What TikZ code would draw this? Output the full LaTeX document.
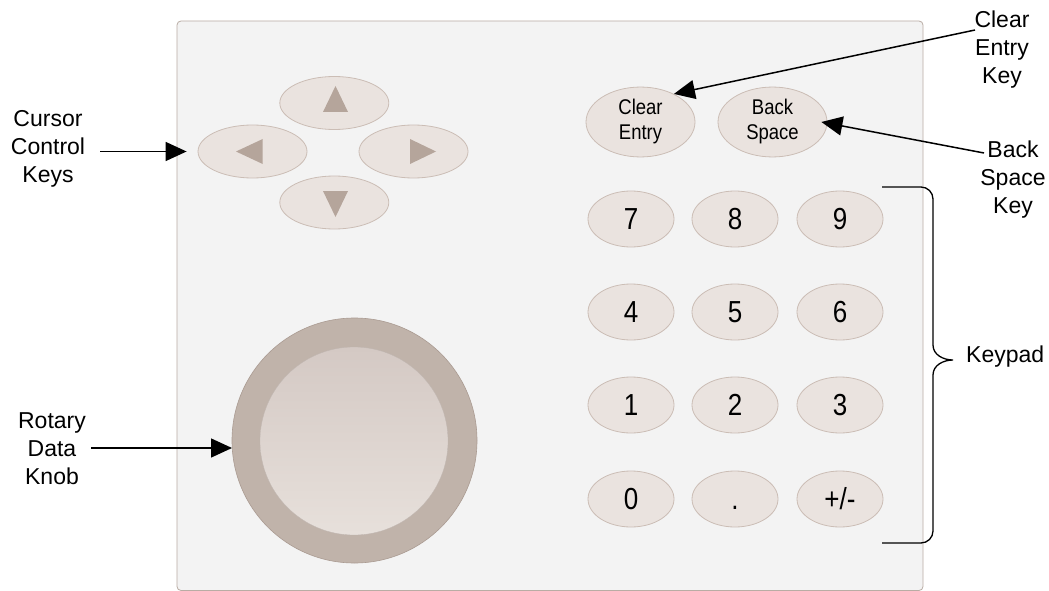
\documentclass[tikz,border=0pt]{standalone}
\usepackage{fontspec}
\setmainfont{Liberation Sans}
\usetikzlibrary{shapes.geometric,arrows.meta}
\definecolor{panelfill}{RGB}{243,243,243}
\definecolor{panelline}{RGB}{185,172,164}
\definecolor{keyfill}{RGB}{234,227,223}
\definecolor{keyline}{RGB}{203,189,181}
\definecolor{trifill}{RGB}{181,165,155}
\definecolor{knobout}{RGB}{192,179,170}
\definecolor{knobline}{RGB}{170,155,146}
\definecolor{knobtop}{RGB}{212,201,196}
\definecolor{knobbot}{RGB}{231,224,219}
\newcommand{\dg}[1]{\scalebox{1}[1.17]{#1}}
\tikzset{
  key/.style={ellipse, draw=keyline, line width=0.8pt, fill=keyfill, inner sep=0pt,
    minimum width=86pt, minimum height=56pt},
  bigkey/.style={key, minimum width=109pt, minimum height=53pt},
  keytext/.style={font=\fontsize{18.5}{22}\selectfont},
  digit/.style={font=\fontsize{26}{30}\selectfont, text height=21.7pt, text depth=0pt},
  lbl/.style={align=center, inner sep=0pt, font=\fontsize{23}{28}\selectfont},
  arr/.style={line width=1.5pt, -{Triangle[length=21pt,width=19pt]}},
  tri/.style={fill=trifill},
}
\begin{document}
\begin{tikzpicture}[x=1pt,y=-1pt]
\useasboundingbox (0,0) rectangle (1049,591);
\fill[white] (0,0) rectangle (1049,591);
% panel
\draw[panelline, fill=panelfill, line width=0.8pt, rounded corners=4pt] (177,21) rectangle (923,590.5);

% cursor keys
\node[bigkey] (uk) at (334.3,103) {};
\node[bigkey] (dk) at (334.3,202.5) {};
\node[bigkey] (lk) at (252.5,151.5) {};
\node[bigkey] (rk) at (413.5,151.5) {};
\fill[tri] (323,112) -- (348,112) -- (335.5,86) -- cycle;
\fill[tri] (323,191) -- (348,191) -- (335.5,217) -- cycle;
\fill[tri] (262.7,139) -- (262.7,164) -- (236,151.5) -- cycle;
\fill[tri] (410,139) -- (410,164) -- (436,151.5) -- cycle;

% clear entry / back space
\node[bigkey, keytext] (ce) at (640.5,122) {\scalebox{1}[1.15]{\begin{tabular}{@{}c@{}}Clear\\[-1pt]Entry\end{tabular}}};
\node[bigkey, keytext] (bs) at (772.5,122) {\scalebox{1}[1.15]{\begin{tabular}{@{}c@{}}Back\\[-1pt]Space\end{tabular}}};

% keypad
\node[key, digit] (k7) at (631,219) {\dg{7}};
\node[key, digit] (k8) at (735,219) {\dg{8}};
\node[key, digit] (k9) at (840,219) {\dg{9}};
\node[key, digit] (k4) at (631,312) {\dg{4}};
\node[key, digit] (k5) at (735,312) {\dg{5}};
\node[key, digit] (k6) at (840,312) {\dg{6}};
\node[key, digit] (k1) at (631,405) {\dg{1}};
\node[key, digit] (k2) at (735,405) {\dg{2}};
\node[key, digit] (k3) at (840,405) {\dg{3}};
\node[key, digit] (k0) at (631,499) {\dg{0}};
\node[key, digit] (kdot) at (735,499) {\dg{.}};
\node[key, digit] (kpm) at (840,499) {\dg{+/-}};

% knob
\node[circle, draw=knobline, line width=0.6pt, fill=knobout, minimum size=245pt, inner sep=0pt] (knob) at (354.5,440.5) {};
\node[circle, top color=knobtop, bottom color=knobbot, draw=knobtop!90!black, line width=0.3pt, minimum size=188pt, inner sep=0pt] (knobin) at (354,441) {};

% labels
\node[lbl] (curlbl) at (48,149) {Cursor\\Control\\Keys};
\node[lbl] (rotlbl) at (52,449) {Rotary\\Data\\Knob};
\node[lbl] (celbl) at (1002,50) {Clear\\Entry\\Key};
\node[lbl] (bslbl) at (1013,180) {Back\\Space\\Key};
\node[lbl, anchor=west] (kplbl) at (966,357) {Keypad};

% connectors
\coordinate (curstart) at (100,151.5);
\draw[arr, shorten >=11pt] (curstart) -- (lk.west);
\coordinate (rotstart) at (91,448);
\coordinate (rotend) at (232,448);
\draw[arr] (rotstart) -- (rotend);
\coordinate (cestart) at (975,30);
\draw[arr] (cestart) -- (ce.40);
\coordinate (bsstart) at (984,153);
\draw[arr] (bsstart) -- ([xshift=-6pt]bs.east);

% brace
\draw[line width=1.3pt] (882,187) -- (921,187) to[out=0,in=90] (933,199) -- (933,345)
  to[out=-90,in=180] (953,360) to[out=180,in=90] (933,375) -- (933,531)
  to[out=-90,in=0] (921,543) -- (882,543);
\end{tikzpicture}
\end{document}
